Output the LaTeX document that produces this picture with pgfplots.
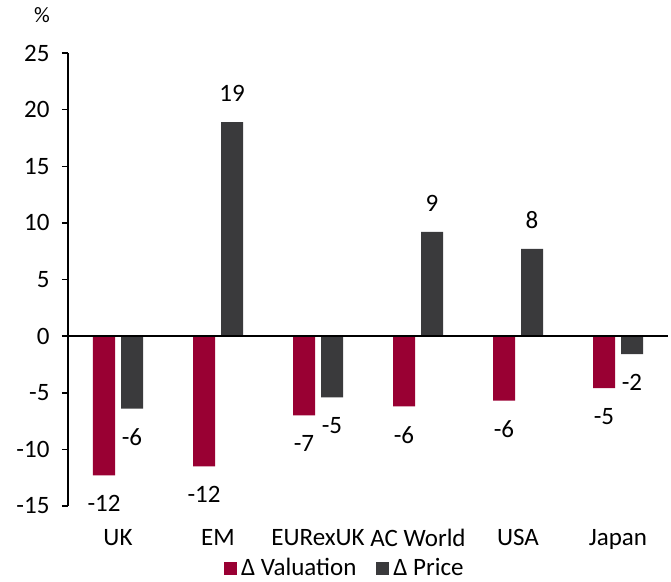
\documentclass[border=0pt]{standalone}
\usepackage{pgfplots}
\pgfplotsset{compat=1.18}
\usepackage{fontspec}
\setmainfont{Carlito}
\definecolor{valred}{HTML}{990033}
\definecolor{pricegray}{HTML}{3A3A3C}
\begin{document}
\fontsize{25}{30}\selectfont
\begin{tikzpicture}
\begin{axis}[
  scale only axis,
  width=600pt, height=453pt,
  ybar=6pt, bar width=22pt,
  xmin=-0.5, xmax=5.5,
  ymin=-15, ymax=25,
  ytick={-15,-10,...,25},
  xtick={0,...,5},
  xticklabels={UK,EM,EURexUK,AC World,USA,Japan},
  axis x line*=bottom,
  x axis line style={draw=none},
  xtick style={draw=none},
  axis y line*=left,
  y axis line style={line width=1.5pt, -},
  ytick style={line width=1.5pt, black},
  major tick length=6pt,
  tick align=outside,
  /pgf/number format/assume math mode=true,
  ticklabel style={font=\fontsize{25}{30}\selectfont},
  yticklabel style={xshift=-4pt},
  xticklabel style={yshift=-9pt},
  nodes near coords,
  nodes near coords style={font=\fontsize{25}{30}\selectfont, inner ysep=20pt, inner xsep=0pt,
    /pgf/number format/.cd, fixed, precision=0, assume math mode=true},
  legend style={draw=none, fill=none, at={(0.463,-0.139)}, anchor=center, inner sep=0pt,
    legend columns=2, font=\fontsize{25}{30}\selectfont,
    nodes={inner xsep=4pt, inner ysep=1pt},
    /tikz/every even column/.append style={column sep=16pt}},
  legend image code/.code={\fill[#1] (0pt,-6pt) rectangle (13pt,7pt);},
  clip=false,
]
\addplot[fill=valred, draw=none] coordinates {
  (0,-12.3) (1,-11.5) (2,-7.0) (3,-6.2) (4,-5.7) (5,-4.6)
};
\addlegendentry{Δ Valuation}
\addplot[fill=pricegray, draw=none] coordinates {
  (0,-6.4) (1,18.9) (2,-5.4) (3,9.2) (4,7.7) (5,-1.6)
};
\addlegendentry{Δ Price}
\draw[line width=1.5pt, black] (axis cs:-0.5,0) -- (axis cs:5.5,0);
\end{axis}
\node at (-26pt,491pt) {\fontsize{22}{26}\selectfont \%};
\pgfresetboundingbox
\useasboundingbox (-68pt,-75pt) rectangle (603pt,506pt);
\end{tikzpicture}
\end{document}
